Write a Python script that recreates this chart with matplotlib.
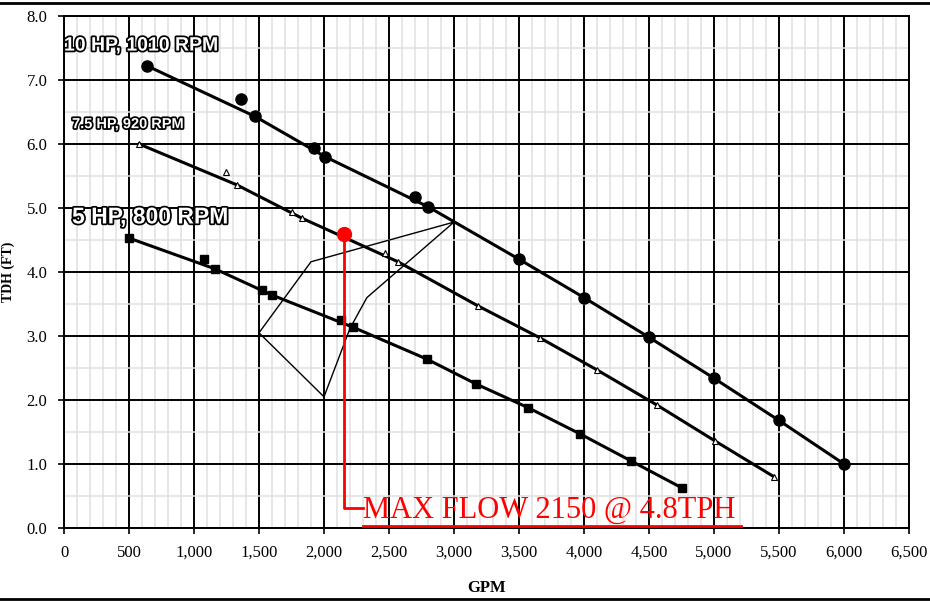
import matplotlib.pyplot as plt
import matplotlib.patheffects as pe
from matplotlib.lines import Line2D
from matplotlib.ticker import MultipleLocator, FuncFormatter

# 10 HP, 1010 RPM - measured points and curve
hp10_gpm = [640, 1360, 1470, 1920, 2010, 2700, 2800, 3500, 4000, 4500, 5000, 5500, 6000]
hp10_tdh = [7.22, 6.70, 6.43, 5.93, 5.80, 5.17, 5.02, 4.20, 3.60, 2.98, 2.34, 1.68, 1.00]
hp10_curve_gpm = [640, 1470, 2010, 2800, 3500, 4000, 4500, 5000, 5500, 6000]
hp10_curve_tdh = [7.22, 6.43, 5.80, 5.02, 4.20, 3.60, 2.98, 2.34, 1.68, 1.00]

# 7.5 HP, 920 RPM
hp75_gpm = [577, 1246, 1331, 1754, 1831, 2469, 2569, 3185, 3662, 4100, 4562, 5008, 5462]
hp75_tdh = [6.00, 5.56, 5.36, 4.94, 4.84, 4.30, 4.16, 3.47, 2.97, 2.47, 1.92, 1.36, 0.80]
hp75_curve_gpm = [577, 1331, 1831, 2569, 3185, 3662, 4100, 4562, 5008, 5462]
hp75_curve_tdh = [6.00, 5.36, 4.84, 4.16, 3.47, 2.97, 2.47, 1.92, 1.36, 0.80]

# 5 HP, 800 RPM
hp5_gpm = [500, 1080, 1160, 1520, 1600, 2130, 2220, 2790, 3170, 3570, 3970, 4360, 4750]
hp5_tdh = [4.53, 4.20, 4.05, 3.72, 3.64, 3.25, 3.14, 2.64, 2.25, 1.88, 1.47, 1.05, 0.63]
hp5_curve_gpm = [500, 1160, 1600, 2220, 2790, 3170, 3570, 3970, 4360, 4750]
hp5_curve_tdh = [4.53, 4.05, 3.64, 3.14, 2.64, 2.25, 1.88, 1.47, 1.05, 0.63]

# operating envelope outline
env_gpm = [1500, 2000, 2200, 2330, 3000, 1900, 1500]
env_tdh = [3.05, 2.05, 3.12, 3.60, 4.78, 4.16, 3.05]

max_gpm, max_tdh = 2150, 4.59
note = "MAX FLOW 2150 @ 4.8TPH"

fig = plt.figure(figsize=(9.3, 6.02), dpi=100)
ax = fig.add_axes([64 / 930, 74 / 602, 845 / 930, 512 / 602])

ax.set_xlim(0, 6500)
ax.set_ylim(0, 8)
ax.xaxis.set_major_locator(MultipleLocator(500))
ax.xaxis.set_minor_locator(MultipleLocator(100))
ax.yaxis.set_major_locator(MultipleLocator(1))
ax.yaxis.set_minor_locator(MultipleLocator(0.5))
ax.xaxis.set_major_formatter(FuncFormatter(lambda v, p: f"{int(v):,}"))
ax.yaxis.set_major_formatter(FuncFormatter(lambda v, p: f"{v:.1f}"))

ax.grid(which="minor", color="#e0e0e0", lw=1.1)
ax.grid(which="major", color="black", lw=1.4)
ax.set_axisbelow(True)
for s in ax.spines.values():
    s.set_color("black")
    s.set_linewidth(1.4)
ax.tick_params(which="major", length=4, width=1.2, direction="out", pad=8)
ax.tick_params(which="minor", length=0)
for lab in ax.get_xticklabels() + ax.get_yticklabels():
    lab.set_fontfamily("Liberation Serif")
    lab.set_fontsize(12)

# curves
ax.plot(hp10_curve_gpm, hp10_curve_tdh, color="black", lw=2.2, zorder=3)
ax.plot(hp10_gpm, hp10_tdh, "o", color="black", ms=8, zorder=4)
ax.plot(hp75_curve_gpm, hp75_curve_tdh, color="black", lw=2.2, zorder=3)
ax.plot(hp75_gpm, hp75_tdh, "^", mfc="white", mec="black", mew=0.8, ms=4, zorder=4)
ax.plot(hp5_curve_gpm, hp5_curve_tdh, color="black", lw=2.2, zorder=3)
ax.plot(hp5_gpm, hp5_tdh, "s", color="black", ms=6, zorder=4)

ax.plot(env_gpm, env_tdh, color="black", lw=1.0, zorder=3)

# outlined curve labels
outline = [pe.withStroke(linewidth=2.5, foreground="black")]
ax.text(0, 7.53, "10 HP, 1010 RPM", fontsize=14, fontweight="bold", family="Liberation Sans",
        color="white", va="center", ha="left", path_effects=outline, zorder=5)
ax.text(62, 6.31, "7.5 HP, 920 RPM", fontsize=10.5, fontweight="bold", family="Liberation Sans",
        color="white", va="center", ha="left", path_effects=outline, zorder=5)
ax.text(62, 4.86, "5 HP, 800 RPM", fontsize=16.5, fontweight="bold", family="Liberation Sans",
        color="white", va="center", ha="left", path_effects=outline, zorder=5)

# max flow marker and note
ax.plot([max_gpm, max_gpm, 2300], [max_tdh, 0.31, 0.31], color="red", lw=2, zorder=6)
ax.plot(max_gpm, max_tdh, "o", color="red", ms=10, zorder=7)
ax.text(2300, 0.16, note, color="red", fontsize=22, family="Liberation Serif",
        ha="left", va="baseline", zorder=7)
ax.plot([2300, 5210], [0.03, 0.03], color="red", lw=2, zorder=7, clip_on=False)

ax.set_xlabel("GPM", fontsize=12, fontweight="bold", family="Liberation Serif", labelpad=14)
ax.set_ylabel("TDH (FT)", fontsize=10, fontweight="bold", family="Liberation Serif", labelpad=8)

# frame lines across the page
fig.add_artist(Line2D([0, 1], [1 - 3 / 602, 1 - 3 / 602], color="black", lw=2))
fig.add_artist(Line2D([0, 1], [3 / 602, 3 / 602], color="black", lw=2))

fig.savefig("out.png", dpi=100)
